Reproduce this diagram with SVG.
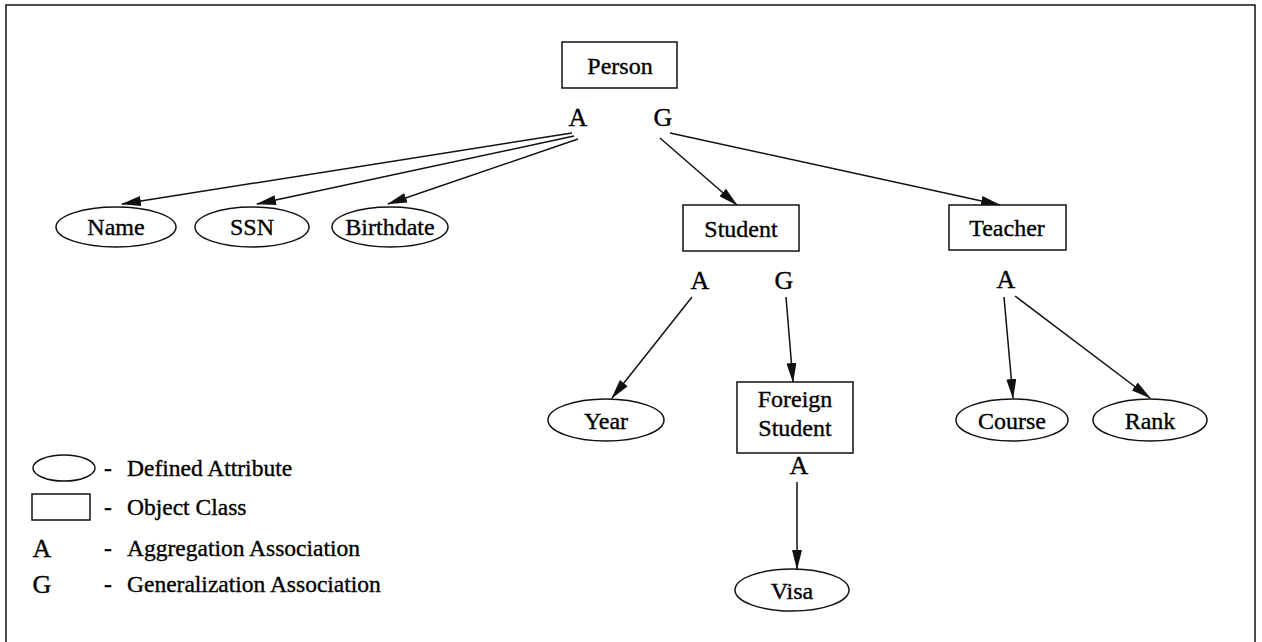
<svg xmlns="http://www.w3.org/2000/svg" width="1262" height="642" viewBox="0 0 1262 642">
<style>
  text { font-family: "Liberation Serif", "Times New Roman", serif; fill: #000; stroke: #000; stroke-width: 0.35; }
  .lbl { font-size: 24px; text-anchor: middle; }
  .ag { font-size: 26px; text-anchor: middle; }
  .leg { font-size: 23.5px; }
  .shape { fill: #fff; stroke: #111; stroke-width: 1.5; }
  .edge { stroke: #111; stroke-width: 1.5; fill: none; marker-end: url(#arr); }
</style>
<defs>
  <marker id="arr" markerWidth="20" markerHeight="10" refX="19" refY="5" orient="auto" markerUnits="userSpaceOnUse">
    <path d="M0,0 L20,5 L0,10 Z" fill="#111"/>
  </marker>
</defs>
<rect width="1262" height="642" fill="#fff"/>
<path d="M6,642 L6,5 L1255,5 L1255,642" fill="none" stroke="#111" stroke-width="1.5"/>

<g id="connectors">
  <line class="edge" x1="572" y1="133" x2="122" y2="204"/>
  <line class="edge" x1="574" y1="136" x2="257" y2="204"/>
  <line class="edge" x1="578" y1="139" x2="388" y2="204"/>
  <line class="edge" x1="670" y1="133" x2="1000" y2="205"/>
  <line class="edge" x1="660" y1="138" x2="737" y2="205"/>
  <line class="edge" x1="692" y1="297" x2="612" y2="398"/>
  <line class="edge" x1="786" y1="297" x2="793" y2="382"/>
  <line class="edge" x1="797" y1="482" x2="797" y2="569"/>
  <line class="edge" x1="1004" y1="297" x2="1013" y2="398"/>
  <line class="edge" x1="1015" y1="296" x2="1150" y2="398"/>
</g>

<g id="person">
  <rect class="shape" x="562" y="42" width="115" height="46"/>
  <text class="lbl" x="620" y="74">Person</text>
  <text class="ag" x="578" y="126">A</text>
  <text class="ag" x="663" y="126">G</text>
</g>
<g id="name">
  <ellipse class="shape" cx="116" cy="227" rx="60" ry="20"/>
  <text class="lbl" x="116" y="235">Name</text>
</g>
<g id="ssn">
  <ellipse class="shape" cx="252" cy="227" rx="57" ry="20"/>
  <text class="lbl" x="252" y="235">SSN</text>
</g>
<g id="birthdate">
  <ellipse class="shape" cx="390" cy="227" rx="58" ry="20"/>
  <text class="lbl" x="390" y="235">Birthdate</text>
</g>
<g id="student">
  <rect class="shape" x="683" y="205" width="116" height="46"/>
  <text class="lbl" x="741" y="237">Student</text>
  <text class="ag" x="700" y="289">A</text>
  <text class="ag" x="784" y="289">G</text>
</g>
<g id="teacher">
  <rect class="shape" x="949" y="205" width="117" height="45"/>
  <text class="lbl" x="1007" y="236">Teacher</text>
  <text class="ag" x="1006" y="288">A</text>
</g>
<g id="year">
  <ellipse class="shape" cx="606" cy="420" rx="58" ry="21"/>
  <text class="lbl" x="606" y="429">Year</text>
</g>
<g id="foreign-student">
  <rect class="shape" x="737" y="382" width="116" height="71"/>
  <text class="lbl" x="795" y="407">Foreign</text>
  <text class="lbl" x="795" y="436">Student</text>
  <text class="ag" x="799" y="474">A</text>
</g>
<g id="visa">
  <ellipse class="shape" cx="792" cy="590" rx="57" ry="21"/>
  <text class="lbl" x="792" y="599">Visa</text>
</g>
<g id="course">
  <ellipse class="shape" cx="1012" cy="420" rx="56" ry="21"/>
  <text class="lbl" x="1012" y="429">Course</text>
</g>
<g id="rank">
  <ellipse class="shape" cx="1150" cy="420" rx="57" ry="21"/>
  <text class="lbl" x="1150" y="429">Rank</text>
</g>

<g id="legend">
  <ellipse class="shape" cx="64" cy="468" rx="31" ry="13"/>
  <text class="leg" x="104" y="476">-</text>
  <text class="leg" x="127" y="476">Defined Attribute</text>
  <rect class="shape" x="32" y="494" width="58" height="26"/>
  <text class="leg" x="104" y="515">-</text>
  <text class="leg" x="127" y="515">Object Class</text>
  <text class="ag" x="42" y="557">A</text>
  <text class="leg" x="104" y="556">-</text>
  <text class="leg" x="127" y="556">Aggregation Association</text>
  <text class="ag" x="42" y="593">G</text>
  <text class="leg" x="104" y="592">-</text>
  <text class="leg" x="127" y="592">Generalization Association</text>
</g>
</svg>
